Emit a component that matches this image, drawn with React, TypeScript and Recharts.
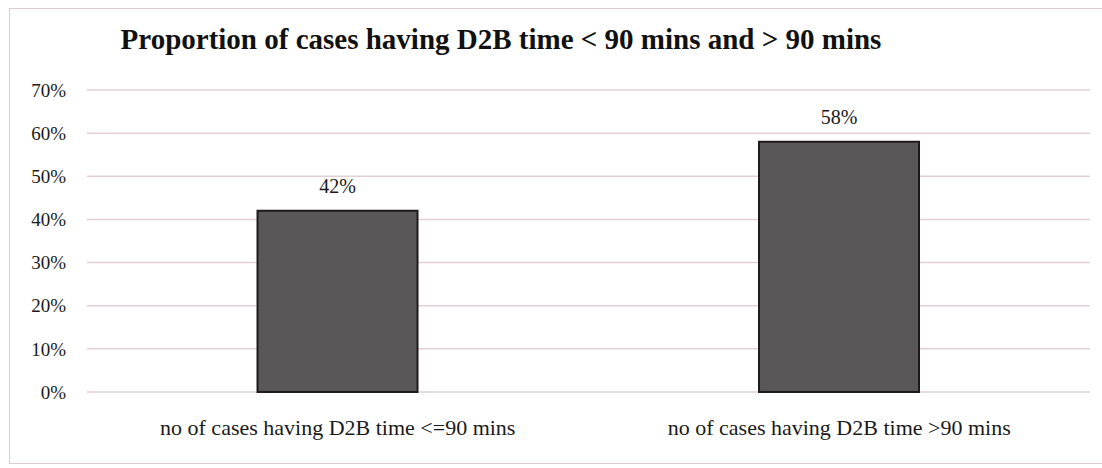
import {Bar, BarChart, CartesianGrid, LabelList, XAxis, YAxis} from "recharts";

const categories = [
    'no of cases having  D2B time <=90 mins',
    'no of cases having  D2B time >90 mins',
];
const proportions = [42, 58];
const yTicks = [0, 10, 20, 30, 40, 50, 60, 70];

const chartTitle = 'Proportion of cases having D2B time < 90 mins and > 90 mins';

const data = categories.map((name, i) => ({
    name: name,
    value: proportions[i],
}));

const serif = '"Liberation Serif", "DejaVu Serif", serif';

export default function App() {
    return (
        <div style={{position: 'absolute', left: 0, top: 0, width: 1102, height: 468, background: '#fff', fontFamily: serif, overflow: 'hidden'}}>
            {/* scanned frame, its right side falls outside the picture */}
            <div style={{position: 'absolute', left: 9, top: 8, width: 1110, height: 454, border: '1px solid #dccdd0'}}/>
            <div style={{position: 'absolute', left: 0, top: 23, width: 1002, textAlign: 'center', fontSize: 29, fontWeight: 'bold', color: '#111', whiteSpace: 'nowrap'}}>
                {chartTitle}
            </div>
            <div style={{position: 'absolute', left: 0, top: 0}}>
                <BarChart
                    width={1102}
                    height={468}
                    data={data}
                    margin={{top: 90, right: 12, left: 27, bottom: 36}}
                    barCategoryGap="34%"
                >
                    <CartesianGrid vertical={false} stroke="#e3cfd3" strokeWidth={1.5}/>
                    <XAxis
                        dataKey="name"
                        axisLine={false}
                        tickLine={false}
                        tickSize={0}
                        tickMargin={27}
                        height={40}
                        interval={0}
                        tick={{fill: '#1a1a1a', fontSize: 22, fontFamily: serif}}
                    />
                    <YAxis
                        domain={[0, 70]}
                        ticks={yTicks}
                        width={60}
                        axisLine={false}
                        tickLine={false}
                        tickSize={0}
                        tickMargin={21}
                        tickFormatter={(v: number) => v + '%'}
                        tick={{fill: '#1a1a1a', fontSize: 19, fontFamily: serif}}
                    />
                    <Bar dataKey="value" fill="#5b5758" stroke="#1f1b1c" strokeWidth={2} isAnimationActive={false}>
                        <LabelList
                            dataKey="value"
                            position="top"
                            offset={18}
                            formatter={(v: any) => v + '%'}
                            style={{fill: '#1a1a1a', fontSize: 20, fontFamily: serif}}
                        />
                    </Bar>
                </BarChart>
            </div>
        </div>
    );
}
